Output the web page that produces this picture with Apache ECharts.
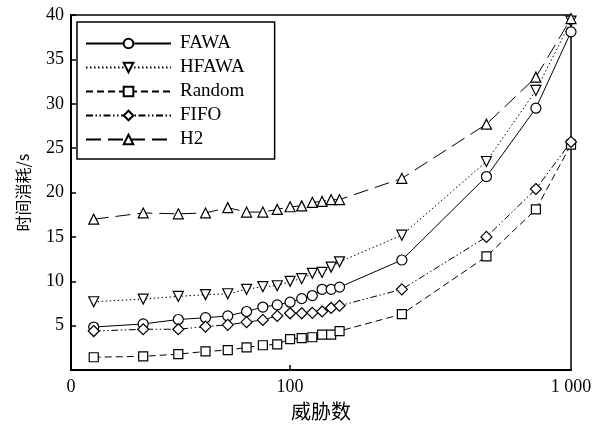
<!DOCTYPE html>
<html>
<head>
<meta charset="utf-8">
<script src="https://cdn.jsdelivr.net/npm/echarts@6/dist/echarts.min.js"></script>
<style>html,body{margin:0;padding:0;background:#fff;}#c{width:607px;height:426px;}</style>
</head>
<body>
<div id="c"></div>
<script>
const threats = [20,30,40,50,60,70,80,90,100,110,120,130,140,150,250,500,750,1000];
const fawa   = [4.85,5.2,5.7,5.9,6.1,6.6,7.1,7.35,7.65,8.05,8.4,9.1,9.1,9.35,12.4,21.8,29.5,38.1];
const hfawa  = [7.7,8.0,8.3,8.5,8.6,9.1,9.4,9.5,10.0,10.3,10.9,11.0,11.6,12.2,15.2,23.5,31.5,39.3];
const random = [1.45,1.55,1.8,2.1,2.25,2.55,2.8,2.9,3.5,3.6,3.7,4.0,4.0,4.4,6.3,12.8,18.1,25.4];
const fifo   = [4.4,4.6,4.6,4.9,5.1,5.4,5.65,6.1,6.4,6.4,6.45,6.6,7.0,7.25,9.1,15.0,20.4,25.7];
const h2     = [17.0,17.7,17.6,17.7,18.3,17.8,17.8,18.1,18.4,18.5,18.9,19.0,19.2,19.2,21.6,27.7,33.0,39.6];
const xMin = 16.6;
const xLabelValues = [xMin, 100, 1000];
const xLabelTexts = ['0', '100', '1 000'];

const serif = 'Liberation Serif';
function pairs(ys){ return threats.map((x,i)=>[x, ys[i]]); }
function mk(name, ys, symbol, dash, size, rot){
  return {
    name, type:'line', data: pairs(ys), symbol, symbolSize: size, symbolRotate: rot||0,
    showAllSymbol: true,
    lineStyle:{color:'#000', width:1, type: dash},
    itemStyle:{color:'#fff', borderColor:'#000', borderWidth:1.2},
    emphasis:{disabled:true}
  };
}
const chart = echarts.init(document.getElementById('c'));
chart.setOption({
  animation:false,
  grid:{left:71, right:36, top:15, bottom:54, show:true, borderColor:'#000', borderWidth:1.5, backgroundColor:'transparent'},
  legend:{
    left:77, top:22, orient:'vertical', itemWidth:85, itemHeight:12, itemGap:5,
    padding:[12,30,10,8], borderColor:'#000', borderWidth:1.5, backgroundColor:'#fff',
    textStyle:{fontFamily:serif, fontSize:19, color:'#000', padding:[0,0,0,4]},
    data:['FAWA','HFAWA','Random','FIFO','H2']
  },
  xAxis:{
    type:'log', logBase:10, min:xMin, max:1000,
    name:'威胁数', nameLocation:'middle', nameGap:28,
    nameTextStyle:{fontFamily:'Noto Sans CJK SC', fontSize:20, color:'#000'},
    axisLine:{lineStyle:{color:'#000', width:2}},
    axisTick:{show:true, inside:true, length:5, customValues:[100], lineStyle:{color:'#000', width:1.5}},
    axisLabel:{customValues:xLabelValues, fontFamily:serif, fontSize:18, color:'#000', margin:8,
      formatter:function(v){ for(let i=0;i<xLabelValues.length;i++){ if(Math.abs(v-xLabelValues[i])/xLabelValues[i]<0.01) return xLabelTexts[i]; } return ''; }},
    splitLine:{show:false}, minorTick:{show:false}
  },
  yAxis:{
    type:'value', min:0, max:40, interval:5,
    name:'时间消耗/s', nameLocation:'middle', nameGap:40,
    nameTextStyle:{fontFamily:'Noto Sans CJK SC', fontSize:16, color:'#000'},
    axisLine:{show:true, lineStyle:{color:'#000', width:2}},
    axisTick:{show:true, inside:true, length:5, lineStyle:{color:'#000', width:1.5}},
    axisLabel:{fontFamily:serif, fontSize:18, color:'#000', margin:7, formatter:function(v){return v===0?'':String(v);}},
    splitLine:{show:false}
  },
  series:[
    mk('FAWA', fawa, 'circle', 'solid', 10),
    mk('HFAWA', hfawa, 'triangle', [1.5,2.5], 10, 180),
    mk('Random', random, 'rect', [7,4], 9),
    mk('FIFO', fifo, 'diamond', [7,2.5,1.5,2.5,1.5,2.5], 11),
    mk('H2', h2, 'triangle', [15,7], 10)
  ]
});
</script>
</body>
</html>
